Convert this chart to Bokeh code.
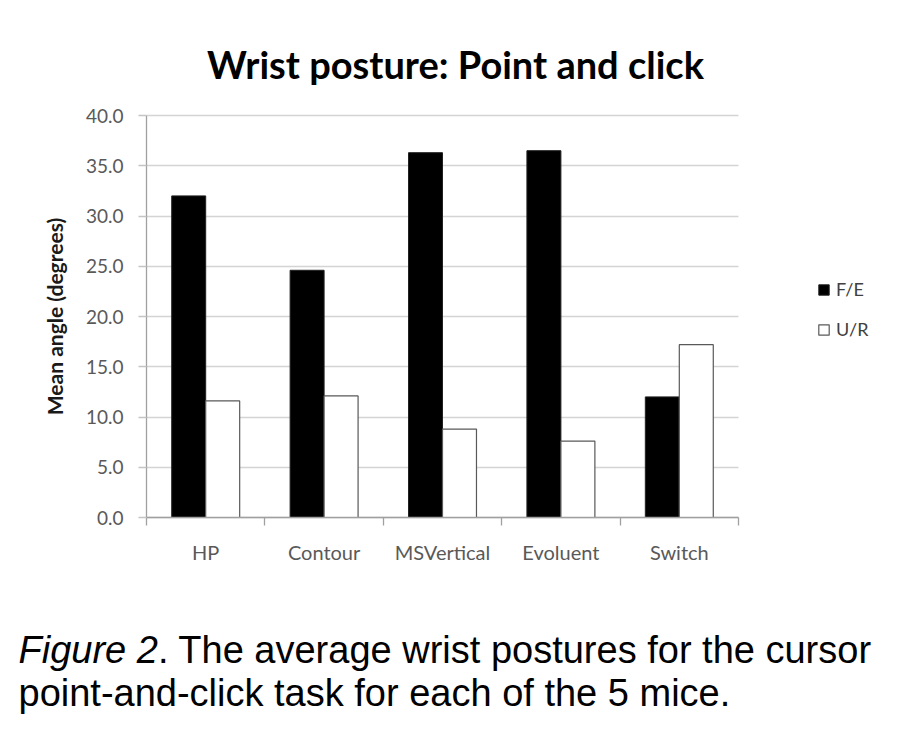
from bokeh.plotting import figure
from bokeh.models import (ColumnDataSource, Range1d, FixedTicker, PrintfTickFormatter,
                          CustomJSTickFormatter, Label, Legend, LegendItem)
from bokeh.transform import dodge
from bokeh.embed import file_html
from bokeh.resources import INLINE

# data
categories = ["HP", "Contour", "MSVertical", "Evoluent", "Switch"]
fe = [32.0, 24.6, 36.3, 36.5, 12.0]   # F/E
ur = [11.6, 12.1, 8.8, 7.6, 17.2]     # U/R
series = ["F/E", "U/R"]
y_ticks = [0, 5, 10, 15, 20, 25, 30, 35, 40]
y_max = 40

title_text = "Wrist posture: Point and click"
ylabel = "Mean angle (degrees)"
cap_italic = "Figure 2"
cap_rest = ". The average wrist postures for the cursor"
cap_line2 = "point-and-click task for each of the 5 mice."

FONT = "Lato"
GRAY = "#595959"
W, H = 890, 728
# chart area inside the canvas (pixels): left, right, top, bottom
L, R, T, B = 146, 738, 115, 517

# the frame covers the whole canvas so title, legend and caption are not clipped;
# the ranges are stretched so that the chart area lands on L..R / T..B
n = len(categories)
xu = (R - L) / n
yu = (B - T) / y_max
x_range = Range1d(-L / xu, n + (W - R) / xu)
y_range = Range1d(-(H - B) / yu, y_max + T / yu)

src = ColumnDataSource(dict(x=[i + 0.5 for i in range(n)], fe=fe, ur=ur))

p = figure(width=W, height=H, output_backend="svg", toolbar_location=None,
           x_range=x_range, y_range=y_range, min_border=0)
p.outline_line_color = None
p.background_fill_color = "white"
p.border_fill_color = "white"

bw = 0.287
r_fe = p.vbar(x=dodge("x", -bw / 2, range=p.x_range), top="fe", width=bw, source=src,
              fill_color="black", line_color="#202020", line_width=1)
r_ur = p.vbar(x=dodge("x", bw / 2, range=p.x_range), top="ur", width=bw, source=src,
              fill_color="white", line_color=GRAY, line_width=1.2)

# grid
p.xgrid.grid_line_color = None
yg = p.ygrid[0]
yg.grid_line_color = "#d4d4d4"
yg.grid_line_width = 1.5
yg.level = "underlay"
yg.bounds = (0, y_max)
if "cross_bounds" in yg.properties():
    yg.cross_bounds = (0, n)

# y axis
ya = p.yaxis[0]
ya.fixed_location = 0
ya.bounds = (0, y_max)
ya.ticker = FixedTicker(ticks=y_ticks)
ya.formatter = PrintfTickFormatter(format="%.1f")
ya.axis_line_color = "#a0a0a0"
ya.axis_line_width = 1.3
ya.major_tick_line_color = "#c4c4c4"
ya.major_tick_line_width = 1.5
ya.major_tick_out = 8
ya.major_tick_in = 0
ya.minor_tick_line_color = None
ya.major_label_standoff = 15
ya.major_label_text_font = FONT
ya.major_label_text_font_size = "19px"
ya.major_label_text_color = GRAY
ya.axis_label = ylabel
ya.axis_label_text_font = FONT
ya.axis_label_text_font_style = "bold"
ya.axis_label_text_font_size = "21px"
ya.axis_label_text_color = "#1a1a1a"
ya.axis_label_standoff = 16

# x axis: labels in the middle of each group, ticks on the group boundaries
xa = p.xaxis[0]
xa.fixed_location = 0
xa.bounds = (0, n)
xa.ticker = FixedTicker(ticks=[i + 0.5 for i in range(n)],
                        minor_ticks=list(range(n + 1)))
xa.formatter = CustomJSTickFormatter(args=dict(cats=categories),
                                     code="return cats[Math.floor(tick)]")
xa.axis_line_color = "#a0a0a0"
xa.axis_line_width = 1.3
xa.major_tick_line_color = None
xa.major_tick_out = 0
xa.major_tick_in = 0
xa.minor_tick_line_color = "#a0a0a0"
xa.minor_tick_line_width = 1.3
xa.minor_tick_out = 8
xa.minor_tick_in = 0
xa.major_label_standoff = 14
xa.major_label_text_font = FONT
xa.major_label_text_font_size = "20px"
xa.major_label_text_color = GRAY

# legend to the right of the chart area (screen units, from bottom-left)
legend = Legend(items=[LegendItem(label=series[0], renderers=[r_fe]),
                       LegendItem(label=series[1], renderers=[r_ur])],
                location=(817, H - 340), orientation="vertical",
                glyph_width=13, glyph_height=13, label_height=13, spacing=18,
                label_standoff=6, padding=0, margin=0,
                border_line_color=None, background_fill_alpha=0,
                label_text_font=FONT, label_text_font_size="18px",
                label_text_color="#404040")
p.add_layout(legend, "center")

# title (the label's y lands about 14px above the rendered baseline)
p.add_layout(Label(x=455, y=H - 63, x_units="screen", y_units="screen", text=title_text,
                   text_font=FONT, text_font_style="bold", text_font_size="38px",
                   text_color="black", text_align="center", text_baseline="alphabetic"))

# caption below the chart
cap_size = 38
cap_y1, cap_y2 = H - 649, H - 692
p.add_layout(Label(x=18, y=cap_y1, x_units="screen", y_units="screen", text=cap_italic,
                   text_font="Liberation Sans", text_font_style="italic",
                   text_font_size=f"{cap_size}px", text_color="black",
                   text_baseline="alphabetic"))
# width of the italic part in Liberation Sans (Arial metrics: 3.668 em)
p.add_layout(Label(x=18 + 3.668 * cap_size, y=cap_y1, x_units="screen", y_units="screen",
                   text=cap_rest, text_font="Liberation Sans",
                   text_font_size=f"{cap_size}px", text_color="black",
                   text_baseline="alphabetic"))
p.add_layout(Label(x=18, y=cap_y2, x_units="screen", y_units="screen", text=cap_line2,
                   text_font="Liberation Sans", text_font_size=f"{cap_size}px",
                   text_color="black", text_baseline="alphabetic"))

open("out.html", "w").write(file_html(p, INLINE))
